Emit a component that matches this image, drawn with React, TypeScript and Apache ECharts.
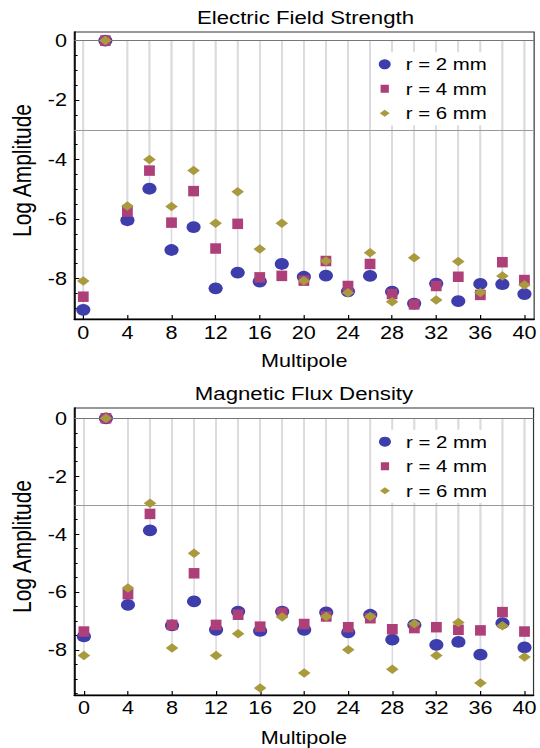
import React, { useEffect, useRef } from 'react';
import * as echarts from 'echarts';

// ---------- data ----------
const multipoles = [0, 2, 4, 6, 8, 10, 12, 14, 16, 18, 20, 22, 24, 26, 28, 30, 32, 34, 36, 38, 40];

const electricR2 = [-9.05, 0, -6.04, -4.98, -7.04, -6.27, -8.33, -7.8, -8.1, -7.51, -7.94, -7.9, -8.43, -7.91, -8.44, -8.84, -8.17, -8.76, -8.18, -8.19, -8.52];
const electricR4 = [-8.61, 0, -5.75, -4.37, -6.12, -5.06, -6.99, -6.16, -7.96, -7.91, -8.07, -7.41, -8.25, -7.51, -8.52, -8.87, -8.25, -7.94, -8.55, -7.45, -8.05];
const electricR6 = [-8.08, 0, -5.56, -4.0, -5.58, -4.37, -6.14, -5.08, -7.01, -6.14, -8.07, -7.41, -8.48, -7.13, -8.78, -7.3, -8.72, -7.43, -8.47, -7.91, -8.22];

const magneticR2 = [-7.53, 0, -6.44, -3.87, -7.15, -6.32, -7.3, -6.67, -7.34, -6.67, -7.3, -6.7, -7.39, -6.78, -7.64, -7.13, -7.82, -7.72, -8.16, -7.07, -7.91];
const magneticR4 = [-7.36, 0, -6.07, -3.3, -7.13, -5.35, -7.13, -6.78, -7.19, -6.71, -7.1, -6.84, -7.21, -6.9, -7.28, -7.24, -7.21, -7.3, -7.32, -6.69, -7.36];
const magneticR6 = [-8.19, 0, -5.86, -2.93, -7.93, -4.66, -8.19, -7.44, -9.31, -6.86, -8.79, -6.84, -7.99, -6.84, -8.66, -7.09, -8.19, -7.05, -9.14, -7.16, -8.24];

const seriesNames = ['r = 2 mm', 'r = 4 mm', 'r = 6 mm'];
const chartTitles = ['Electric Field Strength', 'Magnetic Flux Density'];
const xAxisName = 'Multipole';
const yAxisName = 'Log Amplitude';
const xTickValues = [0, 4, 8, 12, 16, 20, 24, 28, 32, 36, 40];
const yTickValues = [0, -2, -4, -6, -8];
const yMinorTickValues = [-0.5, -1, -1.5, -2.5, -3, -3.5, -4.5, -5, -5.5, -6.5, -7, -7.5, -8.5, -9, -9.5];
const referenceLines = [0, -3];

// ---------- layout / style ----------
const S = 1.2; // horizontal stretch of the whole picture
const W = 540 / S;
const H = 748;
const px = (v: number) => v / S;
const FONT = "'Liberation Sans', Arial, Helvetica, sans-serif";
const COLORS = ['#3d3dab', '#ad4079', '#a99a3e'];
const SYMBOLS: any[] = ['circle', 'rect', 'diamond'];
const SYMBOL_SIZES: any[] = [11.8, [9, 10.5], [10.5, 9.5]];
const LEGEND_ICONS = [
  'circle',
  'path://M0,0L0,0Z M1.55,1H8.45V9H1.55Z M10,10L10,10Z',
  'path://M0,0L0,0Z M0.85,5L5,1.5L9.15,5L5,8.5Z M10,10L10,10Z',
];

const panels = [
  {
    title: chartTitles[0],
    series: [electricR2, electricR4, electricR6],
    left: 71.6, rightEdge: 536.5, top: 32, bottom: 319,
    xMin: -0.816, xMax: 40.88, yMin: -9.36, yMax: 0.29,
    titleX: 254.6, titleTop: 8, legendTop: 52.3, legendLeft: 313.6,
    labelMargin: 5, nameGap: 33,
  },
  {
    title: chartTitles[1],
    series: [magneticR2, magneticR4, magneticR6],
    left: 68.5, rightEdge: 536.7, top: 408, bottom: 695.5,
    xMin: -0.873, xMax: 40.82, yMin: -9.55, yMax: 0.355,
    titleX: 253.3, titleTop: 384, legendTop: 429.7, legendLeft: 313.8,
    labelMargin: 4, nameGap: 34,
  },
];

function buildOption() {
  const grid: any[] = [];
  const xAxis: any[] = [];
  const yAxis: any[] = [];
  const series: any[] = [];
  const title: any[] = [];
  const legend: any[] = [];

  panels.forEach((p, i) => {
    grid.push({
      left: px(p.left),
      right: W - px(p.rightEdge),
      top: p.top,
      height: p.bottom - p.top,
      show: true,
      borderColor: '#333',
      borderWidth: 1,
      backgroundColor: 'transparent',
    });
    xAxis.push({
      gridIndex: i,
      type: 'value',
      min: p.xMin,
      max: p.xMax,
      axisLine: { show: true, onZero: false, lineStyle: { color: '#000', width: 1.3 } },
      axisTick: { show: true, inside: true, length: 4, customValues: xTickValues, lineStyle: { color: '#000', width: 1 } },
      axisLabel: { customValues: xTickValues, fontSize: 18, color: '#000', fontFamily: FONT, margin: p.labelMargin, lineHeight: 18 },
      splitLine: { show: false },
      name: xAxisName,
      nameLocation: 'middle',
      nameGap: p.nameGap,
      nameTextStyle: { fontSize: 18, color: '#000', fontFamily: FONT, lineHeight: 18 },
    });
    yAxis.push({
      gridIndex: i,
      type: 'value',
      position: 'left',
      min: p.yMin,
      max: p.yMax,
      axisLine: { show: true, onZero: false, lineStyle: { color: '#000', width: 1.3 } },
      axisTick: { show: true, inside: true, length: 4.2, customValues: yTickValues, lineStyle: { color: '#000', width: 1 } },
      axisLabel: { customValues: yTickValues, fontSize: 18, color: '#000', fontFamily: FONT, margin: 6 },
      splitLine: { show: false },
      name: yAxisName,
      nameLocation: 'middle',
      nameGap: px(p.left) - px(22) - 10.5,
      nameTextStyle: { fontSize: 21, color: '#000', fontFamily: FONT, lineHeight: 21, padding: [0, 0, 0, 10] },
    });
    yAxis.push({
      gridIndex: i,
      type: 'value',
      position: 'left',
      min: p.yMin,
      max: p.yMax,
      axisLine: { show: false, onZero: false },
      axisTick: { show: true, inside: true, length: 2.8, customValues: yMinorTickValues, lineStyle: { color: '#000', width: 1 } },
      axisLabel: { show: false },
      splitLine: { show: false },
    });

    // stems from 0 down to every point
    const stemData: number[][] = [];
    p.series.forEach((vals) => {
      multipoles.forEach((m, k) => stemData.push([m, vals[k]]));
    });
    series.push({
      type: 'custom',
      xAxisIndex: i,
      yAxisIndex: i * 2,
      silent: true,
      z: 1,
      data: stemData,
      encode: { x: 0, y: 1 },
      renderItem: (params: any, api: any) => {
        const x = api.value(0);
        const y = api.value(1);
        const p0 = api.coord([x, 0]);
        const p1 = api.coord([x, y]);
        return {
          type: 'line',
          shape: { x1: p0[0], y1: p0[1], x2: p1[0], y2: p1[1] },
          style: { stroke: '#dcdadf', lineWidth: 1.3 },
          silent: true,
        };
      },
    });

    // horizontal reference lines
    series.push({
      type: 'scatter',
      name: 'ref' + i,
      xAxisIndex: i,
      yAxisIndex: i * 2,
      data: [],
      z: 1,
      silent: true,
      markLine: {
        silent: true,
        symbol: ['none', 'none'],
        label: { show: false },
        animation: false,
        data: referenceLines.map((v, k) => ({
          yAxis: v,
          lineStyle: { color: k === 0 ? '#777' : '#999', width: 1, type: 'solid' },
        })),
      },
    });

    p.series.forEach((vals, s) => {
      series.push({
        type: 'scatter',
        name: seriesNames[s],
        xAxisIndex: i,
        yAxisIndex: i * 2,
        z: 3 + s,
        symbol: SYMBOLS[s],
        symbolSize: SYMBOL_SIZES[s],
        itemStyle: { color: COLORS[s], opacity: 1 },
        data: multipoles.map((m, k) => [m, vals[k]]),
      });
    });

    title.push({
      text: p.title,
      left: p.titleX,
      top: p.titleTop,
      textAlign: 'center',
      padding: 0,
      textStyle: { fontSize: 18.5, fontWeight: 'normal', color: '#000', fontFamily: FONT, lineHeight: 20 },
    });

    legend.push({
      orient: 'vertical',
      left: p.legendLeft,
      top: p.legendTop,
      padding: [3, 4, 3, 2],
      backgroundColor: '#fff',
      itemWidth: 25,
      itemHeight: 10,
      itemGap: 6.5,
      selectedMode: false,
      textStyle: { fontSize: 17, color: '#000', fontFamily: FONT, lineHeight: 18 },
      data: seriesNames.map((n, s) => ({ name: n, icon: LEGEND_ICONS[s], itemStyle: { color: COLORS[s] } })),
    });
  });

  return {
    animation: false,
    backgroundColor: '#fff',
    textStyle: { fontFamily: FONT },
    title,
    legend,
    grid,
    xAxis,
    yAxis,
    series,
  };
}

export default function App() {
  const ref = useRef<HTMLDivElement>(null);
  useEffect(() => {
    if (!ref.current) return;
    const chart = echarts.init(ref.current, null, { renderer: 'svg' });
    chart.setOption(buildOption() as any);
    return () => chart.dispose();
  }, []);
  return (
    <div
      ref={ref}
      style={{
        position: 'absolute',
        left: 0,
        top: 0,
        width: W,
        height: H,
        transform: `scaleX(${S})`,
        transformOrigin: '0 0',
        background: '#fff',
      }}
    />
  );
}
